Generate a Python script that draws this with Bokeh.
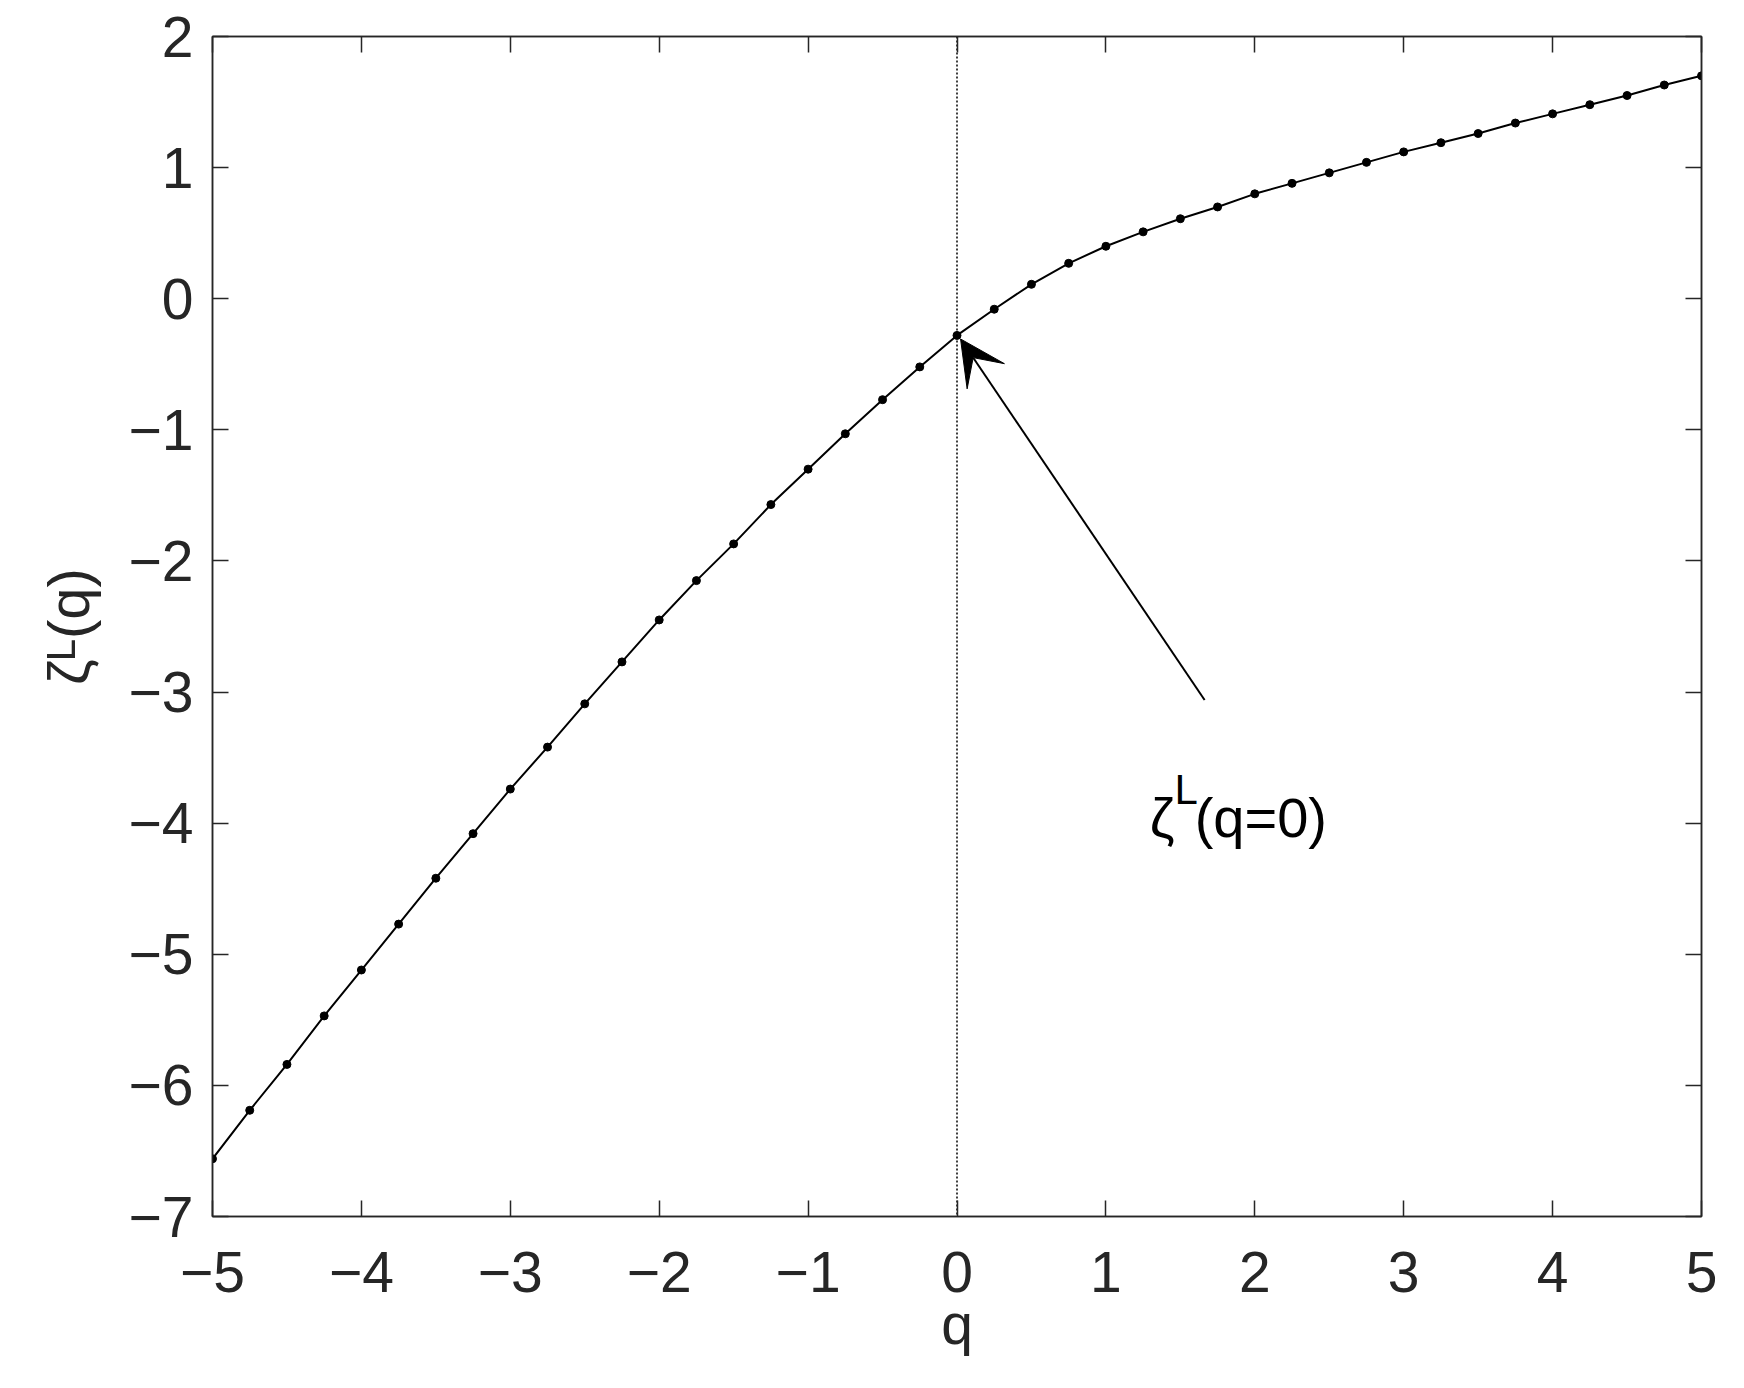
from bokeh.plotting import figure
from bokeh.models import Range1d, FixedTicker, LinearAxis, Label, Arrow, VeeHead, Span
from bokeh.embed import file_html
from bokeh.resources import INLINE

# ---- data ----
q_values = [-5.0, -4.75, -4.5, -4.25, -4.0, -3.75, -3.5, -3.25, -3.0, -2.75,
            -2.5, -2.25, -2.0, -1.75, -1.5, -1.25, -1.0, -0.75, -0.5, -0.25,
            0.0, 0.25, 0.5, 0.75, 1.0, 1.25, 1.5, 1.75, 2.0, 2.25,
            2.5, 2.75, 3.0, 3.25, 3.5, 3.75, 4.0, 4.25, 4.5, 4.75, 5.0]
zeta_L = [-6.56, -6.19, -5.84, -5.47, -5.12, -4.77, -4.42, -4.08, -3.74, -3.42,
          -3.09, -2.77, -2.45, -2.15, -1.87, -1.57, -1.30, -1.03, -0.77, -0.52,
          -0.28, -0.08, 0.11, 0.27, 0.40, 0.51, 0.61, 0.70, 0.80, 0.88,
          0.96, 1.04, 1.12, 1.19, 1.26, 1.34, 1.41, 1.48, 1.55, 1.63, 1.70]
x_ticks = [-5, -4, -3, -2, -1, 0, 1, 2, 3, 4, 5]
y_ticks = [-7, -6, -5, -4, -3, -2, -1, 0, 1, 2]

FONT = "Liberation Sans"
AX = "#262626"
FS = "57px"

def lab(t):
    return ("\u2212" + str(abs(t))) if t < 0 else str(t)

p = figure(width=1728, height=1372, x_range=Range1d(-5, 5), y_range=Range1d(-7, 2),
           output_backend="svg", toolbar_location=None,
           min_border_left=212, min_border_right=27, min_border_top=36, min_border_bottom=156)
p.xgrid.visible = False
p.ygrid.visible = False
p.outline_line_color = AX
p.outline_line_width = 1.5
p.background_fill_color = "white"
p.border_fill_color = "white"

def style(ax, ticks, show):
    ax.ticker = FixedTicker(ticks=ticks)
    ax.major_tick_in = 16
    ax.major_tick_out = 0
    ax.minor_tick_in = 0
    ax.minor_tick_out = 0
    ax.major_tick_line_color = AX
    ax.major_tick_line_width = 1.5
    ax.axis_line_color = AX
    ax.axis_line_width = 1.5
    ax.major_label_text_font = FONT
    ax.major_label_text_color = AX
    if show:
        ax.major_label_text_font_size = FS
        ax.major_label_overrides = {t: lab(t) for t in ticks}
    else:
        ax.major_label_text_font_size = "0px"
        ax.major_label_standoff = 0
        ax.major_label_overrides = {t: "" for t in ticks}

style(p.xaxis[0], x_ticks, True)
style(p.yaxis[0], y_ticks, True)
p.xaxis[0].major_label_standoff = 35
p.yaxis[0].major_label_standoff = 19

xa = p.xaxis[0]
xa.axis_label = "q"
xa.axis_label_text_font = FONT
xa.axis_label_text_font_size = FS
xa.axis_label_text_font_style = "normal"
xa.axis_label_text_color = AX
xa.axis_label_standoff = -3

ya = p.yaxis[0]
ya.axis_label = "\u03b6\u1d38(q)"
ya.axis_label_text_font = FONT
ya.axis_label_text_font_size = "58px"
ya.axis_label_text_font_style = "normal"
ya.axis_label_text_color = AX
ya.axis_label_standoff = 25

top_ax = LinearAxis()
style(top_ax, x_ticks, False)
p.add_layout(top_ax, "above")
right_ax = LinearAxis()
style(right_ax, y_ticks, False)
p.add_layout(right_ax, "right")

# dotted vertical line at q=0
p.add_layout(Span(location=0, dimension="height", line_color="black",
                  line_dash="2 2", line_width=1.5, level="underlay"))

p.line(q_values, zeta_L, line_color="black", line_width=2)
p.scatter(q_values, zeta_L, size=8, fill_color="black", line_color="black")

# arrow annotation
p.add_layout(Arrow(end=VeeHead(size=45, fill_color="black", line_color="black"),
                   x_start=1.663, y_start=-3.061, x_end=0.024, y_end=-0.307,
                   line_color="black", line_width=2))

def txt(text, x, y, size, align="left"):
    p.add_layout(Label(x=x, y=y, text=text, text_font=FONT, text_font_size=size,
                       text_color="black", text_align=align, text_baseline="alphabetic"))

# annotation text  zeta^L(q=0)
txt("\u03b6", 1.294, -3.955, "56px")
txt("L", 1.46, -3.74, "42px")
txt("(q=0)", 1.596, -3.955, "56px")

open("out.html", "w").write(file_html(p, INLINE))
